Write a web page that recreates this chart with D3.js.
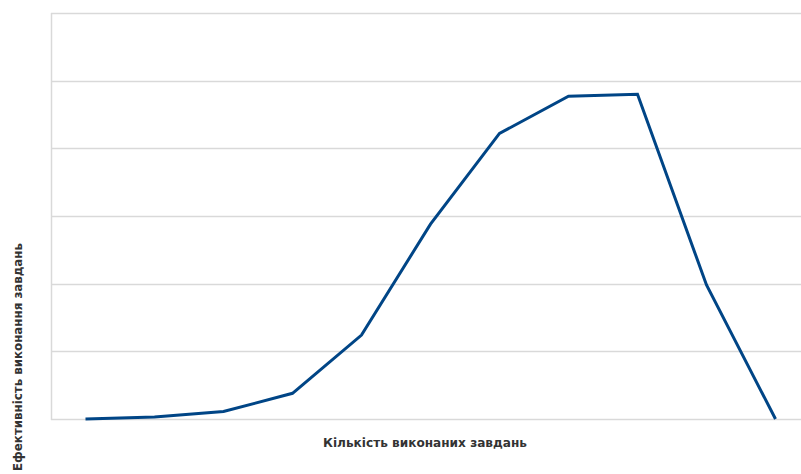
<!DOCTYPE html>
<html>
<head>
<meta charset="utf-8">
<script src="https://cdn.jsdelivr.net/npm/d3@7"></script>
<style>
  body { margin: 0; background: #fff; }
  svg { display: block; }
</style>
</head>
<body>
<div id="chart"></div>
<script>
// categories (no labels are shown on the x axis)
const categories = ['1', '2', '3', '4', '5', '6', '7', '8', '9', '10', '11'];
// efficiency values (gridline units)
const values = [0, 0.03, 0.11, 0.38, 1.24, 2.88, 4.22, 4.77, 4.8, 1.98, 0];
const yTicks = [0, 1, 2, 3, 4, 5, 6];

const xTitle = 'Кількість виконаних завдань';
const yTitle = 'Ефективність виконання завдань';

const width = 801;
const height = 474;
const margin = { top: 13, right: -9, bottom: 55, left: 51 };

const svg = d3.select('#chart')
  .append('svg')
  .attr('width', width)
  .attr('height', height);

const x = d3.scaleBand()
  .domain(categories)
  .range([margin.left, width - margin.right]);

const y = d3.scaleLinear()
  .domain([0, 6])
  .range([height - margin.bottom, margin.top]);

// gridlines
svg.append('g')
  .attr('stroke', '#d9d9d9')
  .attr('stroke-width', 1.5)
  .selectAll('line')
  .data(yTicks)
  .join('line')
  .attr('x1', margin.left)
  .attr('x2', width - margin.right)
  .attr('y1', (d) => Math.round(y(d)) + 0.5)
  .attr('y2', (d) => Math.round(y(d)) + 0.5);

// left axis line
svg.append('line')
  .attr('x1', margin.left + 0.5)
  .attr('x2', margin.left + 0.5)
  .attr('y1', y(6))
  .attr('y2', y(0) + 1)
  .attr('stroke', '#d9d9d9')
  .attr('stroke-width', 1.5);

const line = d3.line()
  .x((d, i) => x(categories[i]) + x.bandwidth() / 2)
  .y((d) => y(d));

svg.append('path')
  .datum(values)
  .attr('fill', 'none')
  .attr('stroke', '#004586')
  .attr('stroke-width', 3)
  .attr('stroke-linejoin', 'miter')
  .attr('d', line);

// axis titles
svg.append('text')
  .attr('x', 425)
  .attr('y', 447)
  .attr('text-anchor', 'middle')
  .attr('font-family', 'DejaVu Sans, sans-serif')
  .attr('font-weight', 'bold')
  .attr('font-size', 12)
  .attr('textLength', 204)
  .attr('lengthAdjust', 'spacingAndGlyphs')
  .attr('fill', '#333')
  .text(xTitle);

svg.append('text')
  .attr('transform', 'translate(22,243) rotate(-90)')
  .attr('text-anchor', 'end')
  .attr('font-family', 'DejaVu Sans, sans-serif')
  .attr('font-weight', 'bold')
  .attr('font-size', 12)
  .attr('textLength', 228)
  .attr('lengthAdjust', 'spacingAndGlyphs')
  .attr('fill', '#333')
  .text(yTitle);
</script>
</body>
</html>
